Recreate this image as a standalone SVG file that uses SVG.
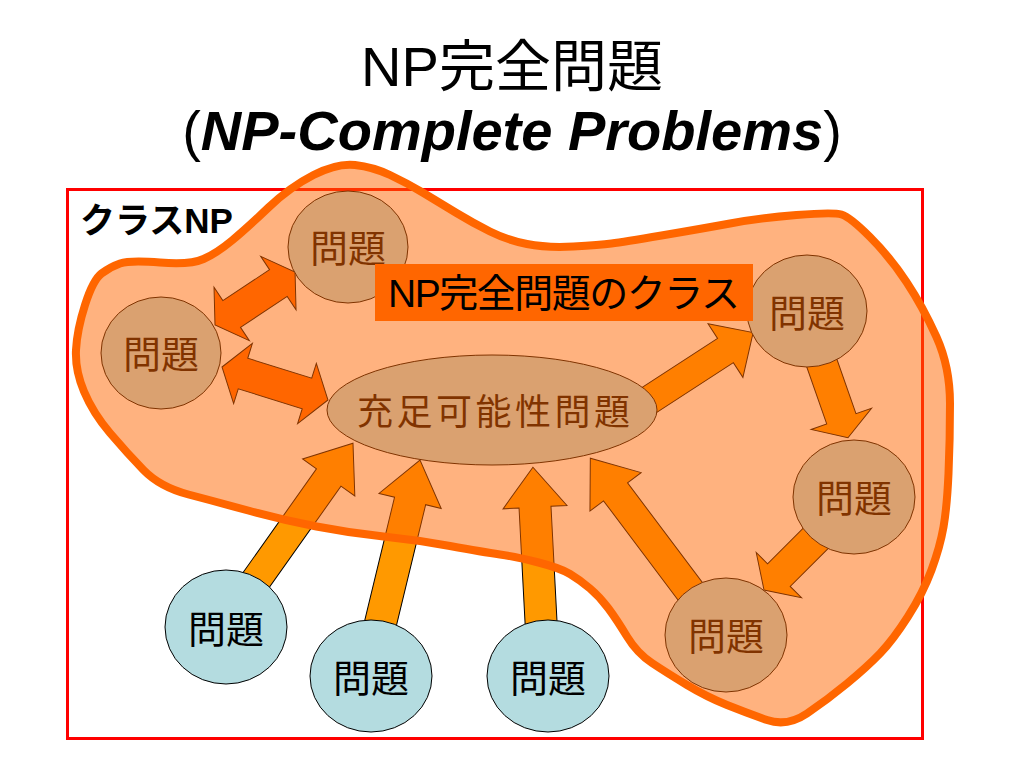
<svg xmlns="http://www.w3.org/2000/svg" width="1024" height="768" viewBox="0 0 1024 768">
<style>
.t{font-family:"Liberation Sans","Noto Sans CJK JP",sans-serif;fill:#000}
.nl{font-size:38px;text-anchor:middle}
.arr{fill:#FF9900;stroke:#000;stroke-width:1}
.darr{fill:#FF6600;stroke:#000;stroke-width:1}
.node{fill:#B4DCE0;stroke:#000;stroke-width:1}
</style>
<rect width="1024" height="768" fill="#fff"/>
<rect x="67.5" y="189.5" width="855" height="549" fill="none" stroke="#FF0000" stroke-width="3"/>
<g id="connectors">
<path class="arr" transform="translate(250.7,587.7) rotate(-54.7)" d="M0,-15 H135 V-32 L177,0 L135,32 V15 H0 Z"/>
<path class="arr" transform="translate(378.6,631.2) rotate(-76.4)" d="M0,-16 H134 V-32 L176,0 L134,32 V16 H0 Z"/>
<path class="arr" transform="translate(541.5,631) rotate(-93)" d="M0,-16 H124 V-32 L164,0 L124,32 V16 H0 Z"/>
<path class="arr" transform="translate(696,599) rotate(-126.9)" d="M0,-15 H134 V-32 L176,0 L134,32 V15 H0 Z"/>
<path class="arr" transform="translate(641.6,405) rotate(-33)" d="M0,-14.5 H100 V-32 L133,0 L100,32 V14.5 H0 Z"/>
<path class="arr" transform="translate(819.2,355.6) rotate(70.7)" d="M0,-15.5 H67 V-32 L87,0 L67,32 V15.5 H0 Z"/>
<path class="arr" transform="translate(822,532) rotate(135)" d="M0,-16 H61 V-32 L82,0 L61,32 V16 H0 Z"/>
<path class="darr" transform="translate(215,325) rotate(-33.5)" d="M0,0 L20,-32 V-16 H76 V-32 L96,0 L76,32 V16 H20 V32 Z"/>
<path class="darr" transform="translate(222,367) rotate(17.3)" d="M0,0 L22,-31.5 V-16 H89 V-31.5 L111,0 L89,31.5 V16 H22 V31.5 Z"/>
</g>
<g id="n-topleft"><ellipse class="node" cx="348" cy="247" rx="60" ry="56"/><text class="t nl" x="348" y="262">問題</text></g>
<g id="n-left"><ellipse class="node" cx="161" cy="353" rx="60" ry="56"/><text class="t nl" x="161" y="368">問題</text></g>
<g id="n-sat"><ellipse class="node" cx="492" cy="410" rx="165" ry="55"/><text class="t" x="357" y="425" font-size="36" textLength="273" lengthAdjust="spacing">充足可能性問題</text></g>
<g id="n-topright"><ellipse class="node" cx="807" cy="311" rx="60" ry="56"/><text class="t nl" x="807" y="327">問題</text></g>
<g id="n-midright"><ellipse class="node" cx="854" cy="497" rx="61" ry="57"/><text class="t nl" x="854" y="512">問題</text></g>
<g id="n-botright"><ellipse class="node" cx="726" cy="635" rx="61" ry="57"/><text class="t nl" x="726" y="650">問題</text></g>
<g id="n-blue1"><ellipse class="node" cx="226" cy="627" rx="61" ry="57"/><text class="t nl" x="226" y="643">問題</text></g>
<g id="n-blue2"><ellipse class="node" cx="371" cy="676" rx="61" ry="56"/><text class="t nl" x="371" y="692">問題</text></g>
<g id="n-blue3"><ellipse class="node" cx="548" cy="676" rx="61" ry="56"/><text class="t nl" x="548" y="692">問題</text></g>
<path id="np-complete-class" fill="#FF6600" fill-opacity="0.5" stroke="#FF6600" stroke-width="8" stroke-linejoin="round" d="M 76,350 Q 77,330 85,305 Q 93,280 101.5,273.5 Q 110,267 120,263.5 Q 130,260 160,262.5 Q 190,265 203.5,259 Q 217,253 232,240.5 Q 247,228 268.5,207.5 Q 290,187 313.5,175 Q 337,163 355,165 Q 373,167 390,175 Q 407,183 423.5,193 Q 440,203 456.5,213 Q 473,223 490,231.5 Q 507,240 527,244 Q 547,248 573.5,246.5 Q 600,245 611.5,243.5 Q 623,242 661.5,235.5 Q 700,229 730,223.5 Q 760,218 796.5,215 Q 833,212 841.5,214.5 Q 850,217 870,237 Q 890,257 906.5,282 Q 923,307 936.5,337 Q 950,367 950,403.5 Q 950,440 948.5,473.5 Q 947,507 943.5,527 Q 940,547 931.5,570 Q 923,593 908,616.5 Q 893,640 880,653.5 Q 867,667 847,683.5 Q 827,700 807,713.5 Q 787,727 767,720 Q 747,713 727,705 Q 707,697 687,685 Q 667,673 652,663 Q 637,653 627,636.5 Q 617,620 608.5,608.5 Q 600,597 590,588.5 Q 580,580 570,574 Q 560,568 538.5,562.5 Q 517,557 500,554.5 Q 483,552 450,546 Q 417,540 383.5,536.5 Q 350,533 316.5,526.5 Q 283,520 250,511 Q 217,502 188.5,494.5 Q 160,487 143.5,470 Q 127,453 110,433 Q 93,413 84,391.5 Q 75,370 76,350 Z"/>
<g id="label-box">
<rect x="375" y="264" width="378" height="57" fill="#FF6600"/>
<text class="t" x="388" y="307" font-size="39" textLength="352" lengthAdjust="spacing">NP完全問題のクラス</text>
</g>
<text id="class-np" class="t" x="80" y="233" font-size="35" font-weight="bold">クラスNP</text>
<g id="title">
<text class="t" x="512" y="86" font-size="56" text-anchor="middle">NP完全問題</text>
<text class="t" x="512" y="150" font-size="56" text-anchor="middle">(<tspan font-weight="bold" font-style="italic">NP-Complete Problems</tspan>)</text>
</g>
</svg>
